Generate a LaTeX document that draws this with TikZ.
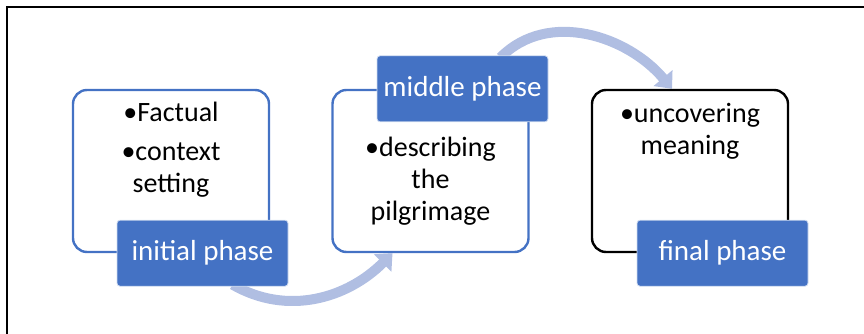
\documentclass[tikz,border=0pt]{standalone}
\usepackage{fontspec}
\setmainfont{Carlito}
\usetikzlibrary{arrows.meta}

\definecolor{phaseblue}{HTML}{4472C4}
\definecolor{flowblue}{RGB}{176,190,226}

\pgfdeclarelayer{back}
\pgfsetlayers{back,main}

\begin{document}
\begin{tikzpicture}[x=1pt, y=1pt, node distance=259.5pt]
        % Define node styles
        \tikzstyle{textbox} = [draw=phaseblue, line width=2.4pt, rectangle, rounded corners=14pt, minimum width=196pt, minimum height=162pt]
        \tikzstyle{phase} = [fill=phaseblue, draw=white!75!phaseblue, line width=0.8pt, rounded corners=3pt, minimum width=171pt, minimum height=66pt, text=white, font=\fontsize{29}{35}\selectfont]
        \tikzstyle{items} = [inner sep=0pt, align=center, font=\fontsize{28}{32}\selectfont]
        \tikzstyle{flow} = [-{Triangle[length=14pt, width=24pt]}, line width=10pt, flowblue]

        \useasboundingbox (0,0) rectangle (864,334);
        \draw[line width=1.5pt] (7,0) |- (864,327);

        % Draw the nodes
        \node[textbox] (initbox) at (171,163) {};
        \node[textbox, right of=initbox] (midbox) {};
        \node[textbox, right of=midbox, draw=black] (finalbox) {};

        \node[items, below=13pt] (inittext) at (initbox.north) {•Factual\\[7pt]•context\\setting};
        \node[items, below=48pt] (midtext) at (midbox.north) {•describing\\the\\pilgrimage};
        \node[items, below=14pt] (finaltext) at (finalbox.north) {•uncovering\\meaning};

        \node[phase] (initphase) at ([xshift=31.5pt]initbox.south) {initial phase};
        \node[phase] (midphase) at ([xshift=32pt]midbox.north) {middle phase};
        \node[phase] (finalphase) at ([xshift=32.5pt]finalbox.south) {final phase};

        \begin{pgfonlayer}{back}
        \draw[flow] ([xshift=30pt, yshift=2pt]initphase.south) to[out=-30, in=225] ([xshift=-38pt]midbox.south);
        \draw[flow] ([xshift=38pt, yshift=-2pt]midphase.north) to[out=45, in=130] ([xshift=-18pt]finalbox.north);
        \end{pgfonlayer}
    \end{tikzpicture}
\end{document}
